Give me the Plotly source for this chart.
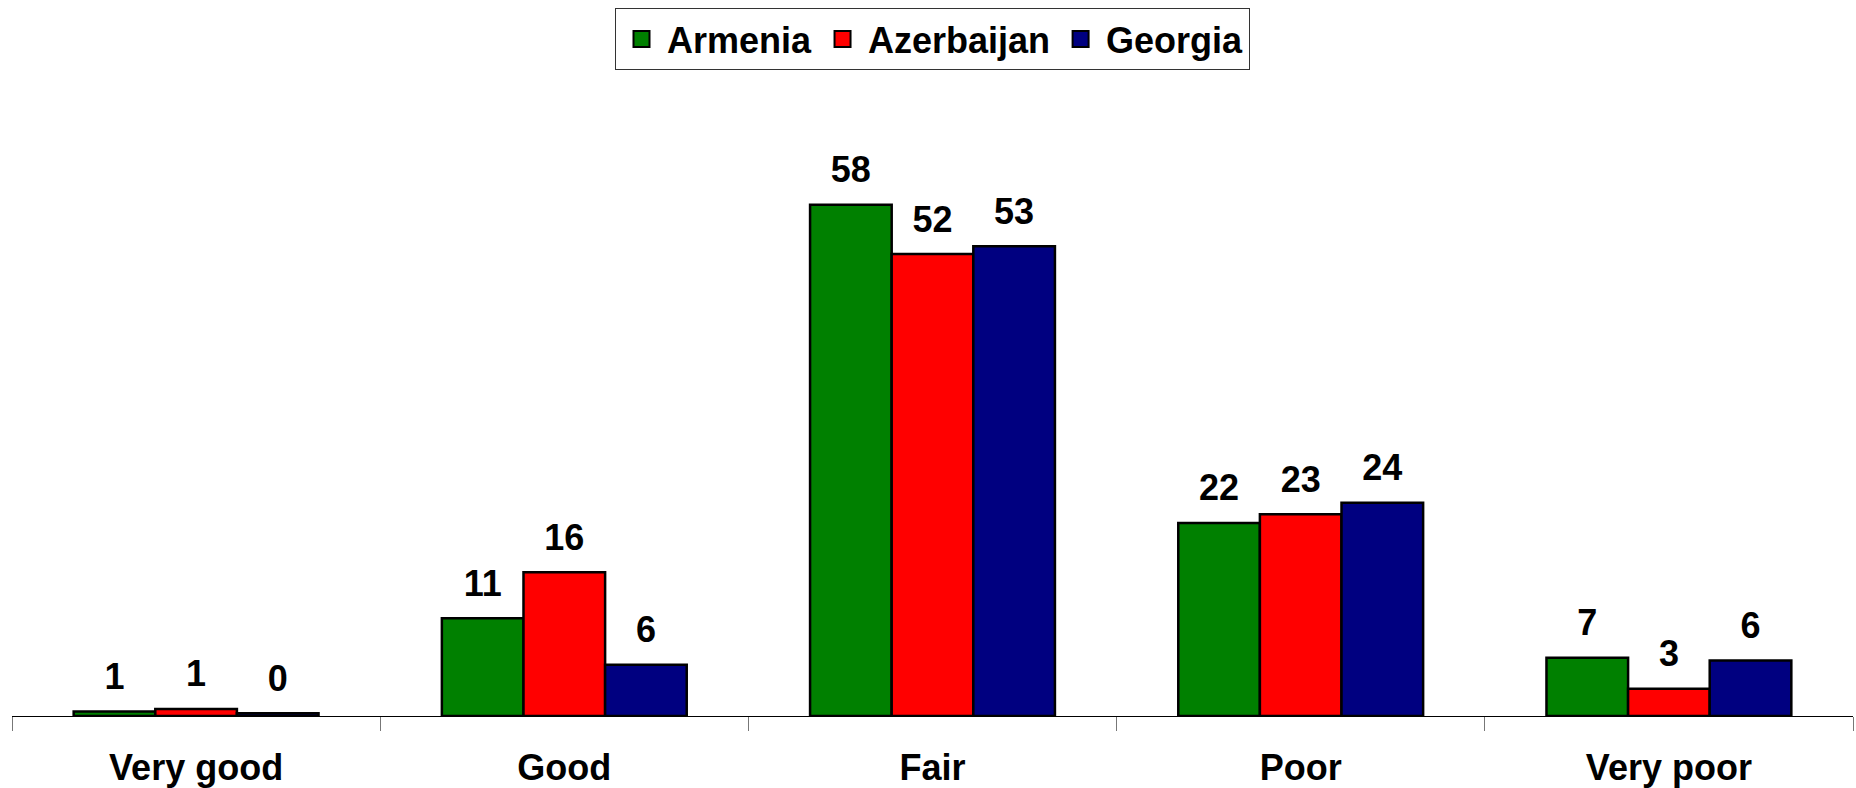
import plotly.graph_objects as go

categories = ["Very good", "Good", "Fair", "Poor", "Very poor"]
armenia = [0.5, 11.1, 58.0, 21.9, 6.6]
azerbaijan = [0.8, 16.3, 52.4, 22.9, 3.1]
georgia = [0.3, 5.8, 53.3, 24.2, 6.3]
armenia_labels = ["1", "11", "58", "22", "7"]
azerbaijan_labels = ["1", "16", "52", "23", "3"]
georgia_labels = ["0", "6", "53", "24", "6"]

FONT = "Liberation Sans, Arial, sans-serif"
FS = 36

fig = go.Figure()
series = [
    ("Armenia", armenia, armenia_labels, "#008000"),
    ("Azerbaijan", azerbaijan, azerbaijan_labels, "#FF0000"),
    ("Georgia", georgia, georgia_labels, "#000080"),
]
for name, vals, labs, col in series:
    fig.add_trace(go.Bar(
        name=name, x=categories, y=vals, offsetgroup=name, showlegend=False,
        marker=dict(color=col, line=dict(color="black", width=2.5)),
    ))
for name, vals, labs, col in series:
    fig.add_trace(go.Scatter(
        x=categories, y=vals, text=labs, offsetgroup=name,
        mode="markers+text", textposition="top center", cliponaxis=False,
        marker=dict(size=20, opacity=0, color=col),
        textfont=dict(family=FONT, size=FS, color="black", weight="bold"),
        showlegend=False, hoverinfo="skip",
    ))
# legend entries (square swatches)
for name, vals, labs, col in series:
    fig.add_trace(go.Scatter(
        x=[None], y=[None], name=name, mode="markers",
        marker=dict(symbol="square", size=16, color=col, line=dict(color="black", width=2)),
        showlegend=True, hoverinfo="skip",
    ))

fig.update_layout(
    width=1856, height=788,
    barmode="group", bargap=0.335, bargroupgap=0,
    scattermode="group", scattergap=0.335,
    plot_bgcolor="white", paper_bgcolor="white",
    margin=dict(l=12, r=3, t=143, b=72),
    font=dict(family=FONT, size=FS, color="black", weight="bold"),
    legend=dict(
        orientation="h", x=0.5, xanchor="center", y=1.2356, yanchor="top",
        bordercolor="#333", borderwidth=1,
        font=dict(family=FONT, size=FS, color="black", weight="bold"),
        itemwidth=41, tracegroupgap=0,
    ),
    showlegend=True,
)
fig.update_xaxes(
    range=[-0.5, 4.5], showline=True, linecolor="black", linewidth=1,
    ticks="outside", tickson="boundaries", ticklen=14, tickcolor="#777",
    ticklabelstandoff=20, showgrid=False, automargin=False,
    tickfont=dict(family=FONT, size=FS, color="black", weight="bold"),
)
fig.update_yaxes(range=[0, 65], visible=False, showgrid=False, automargin=False)

fig.write_html("out.html", config={"displayModeBar": False},
               post_script="document.body.style.margin='0';document.body.style.overflow='hidden';")
